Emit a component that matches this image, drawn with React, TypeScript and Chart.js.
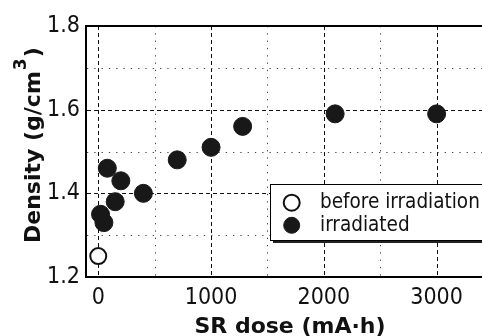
import React, { useEffect, useRef } from "react";
import { Chart, registerables } from "chart.js";

Chart.register(...registerables);

const beforeDose = [0];
const beforeDensity = [1.25];
const irradiatedDose = [20, 50, 80, 150, 200, 400, 700, 1000, 1280, 2100, 3000];
const irradiatedDensity = [1.35, 1.33, 1.46, 1.38, 1.43, 1.4, 1.48, 1.51, 1.56, 1.59, 1.59];
const seriesLabels = ["before irradiation", "irradiated"];
const xTickValues = [0, 500, 1000, 1500, 2000, 2500, 3000];
const xLabelValues = [0, 1000, 2000, 3000];
const yTickValues = [1.2, 1.3, 1.4, 1.5, 1.6, 1.7, 1.8];
const yLabelValues = [1.2, 1.4, 1.6, 1.8];
const xTitle = "SR dose (mA\u00b7h)";
const yTitleMain = "Density (g/cm";
const yTitleSup = "3";
const yTitleEnd = ")";

const FONT = "'DejaVu Sans Condensed', 'DejaVu Sans', sans-serif";
const TITLE_FONT = "'DejaVu Sans', sans-serif";

const near = (a: number, list: number[]) => list.some((b) => Math.abs(a - b) < 1e-6);

const decor = {
  id: "decor",
  beforeDatasetsDraw(chart: any) {
    const ctx = chart.ctx;
    const { left, right, top, bottom } = chart.chartArea;
    const xs = chart.scales.x;
    const ys = chart.scales.y;
    ctx.save();
    ctx.lineWidth = 1;
    xs.ticks.forEach((t: any) => {
      const v = t.value;
      const px = Math.round(xs.getPixelForValue(v)) + 0.5;
      if (px <= left + 1 || px >= right - 1) return;
      const major = near(v, xLabelValues);
      ctx.strokeStyle = major ? "#111" : "#444";
      ctx.setLineDash(major ? [4, 3] : [1.3, 6]);
      ctx.beginPath();
      ctx.moveTo(px, top);
      ctx.lineTo(px, bottom);
      ctx.stroke();
    });
    ys.ticks.forEach((t: any) => {
      const v = t.value;
      const py = Math.round(ys.getPixelForValue(v)) + 0.5;
      if (py <= top + 1 || py >= bottom - 1) return;
      const major = near(v, yLabelValues);
      ctx.strokeStyle = major ? "#111" : "#444";
      ctx.setLineDash(major ? [4, 3] : [1.3, 6]);
      ctx.beginPath();
      ctx.moveTo(left, py);
      ctx.lineTo(right, py);
      ctx.stroke();
    });
    ctx.setLineDash([]);
    ctx.strokeStyle = "#000";
    ctx.lineWidth = 2;
    ctx.strokeRect(left - 1, top, right - left + 1, bottom - top);
    ctx.restore();
  },
  afterDraw(chart: any) {
    const ctx = chart.ctx;
    const { left, right } = chart.chartArea;
    ctx.save();
    // x title
    ctx.fillStyle = "#111";
    ctx.font = `bold 22px ${TITLE_FONT}`;
    ctx.textAlign = "center";
    ctx.textBaseline = "alphabetic";
    ctx.fillText(xTitle, (left + right) / 2, 333);
    // y title
    ctx.save();
    ctx.translate(40, 243);
    ctx.rotate(-Math.PI / 2);
    ctx.textAlign = "left";
    ctx.font = `bold 22px ${TITLE_FONT}`;
    ctx.fillText(yTitleMain, 0, 0);
    const w1 = ctx.measureText(yTitleMain).width;
    ctx.font = `bold 17px ${TITLE_FONT}`;
    ctx.fillText(yTitleSup, w1 + 1, -14);
    const w2 = ctx.measureText(yTitleSup).width;
    ctx.font = `bold 22px ${TITLE_FONT}`;
    ctx.fillText(yTitleEnd, w1 + w2 + 2, 0);
    ctx.restore();
    // legend
    const bx = 270, by = 184, bw = 240, bh = 56;
    ctx.fillStyle = "#222";
    ctx.fillRect(bx + 3, by + 3, bw, bh);
    ctx.fillStyle = "#fff";
    ctx.fillRect(bx, by, bw, bh);
    ctx.strokeStyle = "#000";
    ctx.lineWidth = 1;
    ctx.strokeRect(bx + 0.5, by + 0.5, bw, bh);
    chart.data.datasets.forEach((ds: any, i: number) => {
      const cy = 202.7 + i * 22.6;
      ctx.beginPath();
      ctx.arc(291.7, cy, 8, 0, Math.PI * 2);
      ctx.fillStyle = ds.backgroundColor;
      ctx.fill();
      ctx.lineWidth = ds.borderWidth;
      ctx.strokeStyle = ds.borderColor;
      ctx.stroke();
      ctx.fillStyle = "#111";
      ctx.font = `20.5px ${FONT}`;
      ctx.textAlign = "left";
      ctx.textBaseline = "middle";
      ctx.fillText(ds.label, 320, cy);
    });
    ctx.restore();
  },
};

export default function App() {
  const ref = useRef<HTMLCanvasElement>(null);
  useEffect(() => {
    const toPts = (xs: number[], ys: number[]) => xs.map((x, i) => ({ x, y: ys[i] }));
    const chart = new Chart(ref.current!, {
      type: "scatter",
      data: {
        datasets: [
          {
            label: seriesLabels[0],
            data: toPts(beforeDose, beforeDensity),
            backgroundColor: "#ffffff",
            borderColor: "#111111",
            borderWidth: 2,
            pointRadius: 8,
          },
          {
            label: seriesLabels[1],
            data: toPts(irradiatedDose, irradiatedDensity),
            backgroundColor: "#181818",
            borderColor: "#181818",
            borderWidth: 1,
            pointRadius: 9,
          },
        ],
      },
      options: {
        animation: false,
        responsive: false,
        maintainAspectRatio: false,
        layout: { padding: { left: 0, top: 26, right: 2, bottom: 0 } },
        plugins: { legend: { display: false }, tooltip: { enabled: false } },
        scales: {
          x: {
            type: "linear",
            min: -100,
            max: 3500,
            grid: { display: false, drawTicks: false },
            border: { display: false },
            afterBuildTicks: (s: any) => {
              s.ticks = xTickValues.map((v) => ({ value: v }));
            },
            afterFit: (s: any) => {
              s.height = 59;
            },
            ticks: {
              autoSkip: false,
              maxRotation: 0,
              minRotation: 0,
              padding: 7,
              color: "#111",
              font: { family: FONT, size: 23 },
              callback: (v: any) => (near(Number(v), xLabelValues) ? String(v) : ""),
            },
          },
          y: {
            type: "linear",
            min: 1.2,
            max: 1.8,
            grid: { display: false, drawTicks: false },
            border: { display: false },
            afterBuildTicks: (s: any) => {
              s.ticks = yTickValues.map((v) => ({ value: v }));
            },
            afterFit: (s: any) => {
              s.width = 87;
            },
            ticks: {
              autoSkip: false,
              padding: 7,
              color: "#111",
              font: { family: FONT, size: 23 },
              callback: (v: any) => (near(Number(v), yLabelValues) ? Number(v).toFixed(1) : ""),
            },
          },
        },
      },
      plugins: [decor],
    });
    return () => chart.destroy();
  }, []);
  return (
    <div style={{ position: "fixed", left: 0, top: 0, width: 482, height: 336, overflow: "hidden", background: "#fff" }}>
      <canvas ref={ref} width={503} height={336} style={{ display: "block" }} />
    </div>
  );
}
